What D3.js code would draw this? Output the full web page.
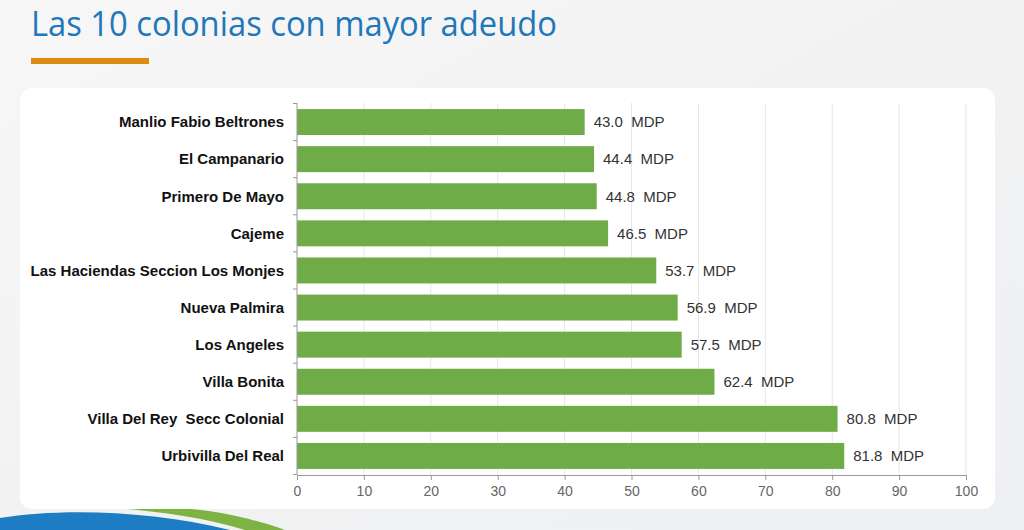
<!DOCTYPE html>
<html>
<head>
<meta charset="utf-8">
<script src="https://cdn.jsdelivr.net/npm/d3@7"></script>
<style>
  html, body { margin: 0; padding: 0; }
  body { width: 1024px; height: 530px; overflow: hidden; }
</style>
</head>
<body>
<div id="chart"></div>
<script>
// datos
var colonias = [
  'Manlio Fabio Beltrones',
  'El Campanario',
  'Primero De Mayo',
  'Cajeme',
  'Las Haciendas Seccion Los Monjes',
  'Nueva Palmira',
  'Los Angeles',
  'Villa Bonita',
  'Villa Del Rey  Secc Colonial',
  'Urbivilla Del Real'
];
var adeudo = [43.0, 44.4, 44.8, 46.5, 53.7, 56.9, 57.5, 62.4, 80.8, 81.8];
var ticks = [0, 10, 20, 30, 40, 50, 60, 70, 80, 90, 100];

var width = 1024, height = 530;
var data = colonias.map((c, i) => ({name: c, value: adeudo[i]}));

var svg = d3.select('#chart').append('svg')
  .attr('width', width).attr('height', height)
  .style('font-family', 'Liberation Sans, Arial, sans-serif');

// fondo
var defs = svg.append('defs');
var bg = defs.append('linearGradient').attr('id', 'bg')
  .attr('x1', 0).attr('y1', 0).attr('x2', 1).attr('y2', 1);
bg.append('stop').attr('offset', '0%').attr('stop-color', '#f7f7f7');
bg.append('stop').attr('offset', '50%').attr('stop-color', '#f2f2f2');
bg.append('stop').attr('offset', '100%').attr('stop-color', '#eef0f3');
svg.append('rect').attr('width', width).attr('height', height).attr('fill', 'url(#bg)');

// adorno abajo a la izquierda
svg.append('path')
  .attr('d', 'M0,518 C60,508 150,510 230,530 L0,530 Z')
  .attr('fill', '#1c7cc4');
svg.append('path')
  .attr('d', 'M115,508 C175,503 235,512 285,530 L245,530 C205,518 165,512 115,508 Z')
  .attr('fill', '#7cb342');

// tarjeta blanca
svg.append('rect')
  .attr('x', 20).attr('y', 88).attr('width', 975).attr('height', 421)
  .attr('rx', 12).attr('fill', '#ffffff');

// titulo
svg.append('text')
  .attr('x', 31).attr('y', 36)
  .text('Las 10 colonias con mayor adeudo')
  .attr('font-family', 'Open Sans, sans-serif')
  .style('font-size', '34px')
  .attr('textLength', 526)
  .attr('lengthAdjust', 'spacingAndGlyphs')
  .attr('fill', '#2178b8');

svg.append('rect')
  .attr('x', 31).attr('y', 58).attr('width', 118).attr('height', 6)
  .attr('fill', '#db8d0f');

var x = d3.scaleLinear().domain([0, 100]).range([297, 966]);
var y = d3.scaleBand().domain(colonias).range([103.5, 474.5]).paddingInner(0.3).paddingOuter(0.15);

// rejilla
svg.append('g').selectAll('line')
  .data(ticks.slice(1))
  .enter().append('line')
    .attr('x1', d => x(d)).attr('x2', d => x(d))
    .attr('y1', 103).attr('y2', 475)
    .attr('stroke', '#e6e6e6').attr('stroke-width', 1);

// barras
svg.append('g').selectAll('rect')
  .data(data)
  .enter().append('rect')
    .attr('x', x(0))
    .attr('y', d => y(d.name))
    .attr('width', d => x(d.value) - x(0))
    .attr('height', y.bandwidth())
    .attr('fill', '#6fac47');

// etiquetas de valor
svg.append('g').selectAll('text')
  .data(data)
  .enter().append('text')
    .attr('x', d => x(d.value) + 9)
    .attr('y', d => y(d.name) + y.bandwidth() / 2)
    .attr('dy', '0.35em')
    .style('font-size', '15px')
    .attr('fill', '#333333')
    .attr('xml:space', 'preserve')
    .text(d => d.value.toFixed(1) + '  MDP');

// eje x
var xAxis = svg.append('g')
  .attr('transform', 'translate(0,475)')
  .call(d3.axisBottom(x).tickValues(ticks).tickSize(5).tickSizeOuter(0));
xAxis.select('.domain').attr('stroke', '#999999');
xAxis.selectAll('.tick line').attr('stroke', '#999999');
xAxis.selectAll('.tick text')
  .attr('fill', '#666666')
  .style('font-size', '14px')
  .attr('dy', '0.95em');

// eje y
var yStep = y.step();
var y0 = y(colonias[0]) - y.paddingOuter() * yStep;
var yAxis = svg.append('g')
  .attr('transform', 'translate(297,0)');
yAxis.append('line')
  .attr('x1', 0).attr('x2', 0).attr('y1', 103).attr('y2', 475)
  .attr('stroke', '#999999');
yAxis.selectAll('line.t')
  .data(d3.range(colonias.length + 1))
  .enter().append('line').attr('class', 't')
    .attr('x1', -4).attr('x2', 0)
    .attr('y1', i => y0 + i * yStep)
    .attr('y2', i => y0 + i * yStep)
    .attr('stroke', '#999999');

yAxis.selectAll('text')
  .data(colonias)
  .enter().append('text')
    .attr('x', -13)
    .attr('y', d => y(d) + y.bandwidth() / 2)
    .attr('dy', '0.35em')
    .attr('text-anchor', 'end')
    .attr('xml:space', 'preserve')
    .style('font-size', '15px')
    .style('font-weight', 'bold')
    .attr('fill', '#111111')
    .text(d => d);
</script>
</body>
</html>
